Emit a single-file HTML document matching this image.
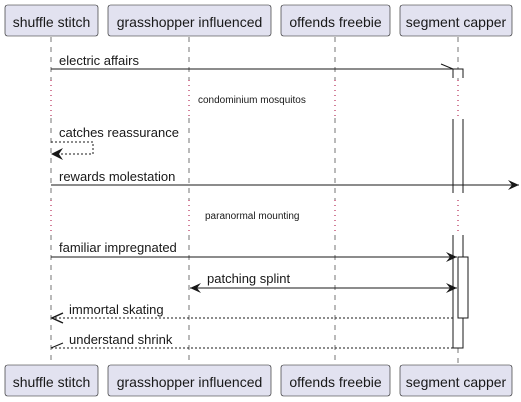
<!DOCTYPE html>
<html><head><style>body{margin:0;background:#fff}svg{display:block}text{font-family:"Liberation Sans",sans-serif}</style></head><body>
<svg width="521" height="402" xmlns="http://www.w3.org/2000/svg">
<defs>
<marker id="a" markerWidth="12" markerHeight="10" refX="11" refY="5" orient="auto" markerUnits="userSpaceOnUse"><path d="M0,0 L11,5 L0,10 L4,5 Z" fill="#181818" stroke="none"/></marker>
<marker id="b" markerWidth="12" markerHeight="10" refX="1" refY="5" orient="auto" markerUnits="userSpaceOnUse"><path d="M12,0 L1,5 L12,10 L8,5 Z" fill="#181818" stroke="none"/></marker>
<marker id="o" markerWidth="12" markerHeight="10" refX="11" refY="5" orient="auto" markerUnits="userSpaceOnUse"><path d="M1,0 L11,5 L1,10" fill="none" stroke="#181818" stroke-width="1.5" stroke-dasharray="none"/></marker>
</defs>
<g stroke="#181818" stroke-width="1" stroke-dasharray="5,5" opacity="0.6">
<line x1="51" y1="37" x2="51" y2="80"/><line x1="51" y1="118" x2="51" y2="200"/><line x1="51" y1="235" x2="51" y2="365"/>
<line x1="189" y1="37" x2="189" y2="80"/><line x1="189" y1="118" x2="189" y2="200"/><line x1="189" y1="235" x2="189" y2="365"/>
<line x1="335" y1="37" x2="335" y2="80"/><line x1="335" y1="118" x2="335" y2="200"/><line x1="335" y1="235" x2="335" y2="365"/>
<line x1="458" y1="37" x2="458" y2="80"/><line x1="458" y1="348" x2="458" y2="365"/>
</g>
<g stroke="#a80036" stroke-width="1" stroke-dasharray="1,4">
<line x1="51" y1="80" x2="51" y2="118"/><line x1="189" y1="80" x2="189" y2="118"/><line x1="335" y1="80" x2="335" y2="118"/><line x1="458" y1="80" x2="458" y2="118"/>
<line x1="51" y1="200" x2="51" y2="235"/><line x1="189" y1="200" x2="189" y2="235"/><line x1="335" y1="200" x2="335" y2="235"/><line x1="458" y1="200" x2="458" y2="235"/>
</g>
<g fill="#fff" stroke="#181818">
<path d="M453,78 V69 H463 V78"/>
<path d="M453,119 V193 M463,119 V193" fill="none"/>
<path d="M453,235 V348 H463 V235" />
<rect x="458" y="257" width="10" height="61"/>
</g>
<g fill="#e2e2f0" stroke="#181818" stroke-width="0.6">
<rect x="5" y="5" width="93" height="31" rx="2.5"/><rect x="108" y="5" width="163" height="31" rx="2.5"/><rect x="281" y="5" width="109" height="31" rx="2.5"/><rect x="400" y="5" width="112" height="31" rx="2.5"/>
<rect x="5" y="365" width="93" height="31" rx="2.5"/><rect x="108" y="365" width="163" height="31" rx="2.5"/><rect x="281" y="365" width="109" height="31" rx="2.5"/><rect x="400" y="365" width="112" height="31" rx="2.5"/>
</g>
<g font-size="14" fill="#181818" text-anchor="middle">
<text x="51.5" y="27">shuffle stitch</text><text x="189.5" y="27">grasshopper influenced</text><text x="335.5" y="27">offends freebie</text><text x="456" y="27">segment capper</text>
<text x="51.5" y="387">shuffle stitch</text><text x="189.5" y="387">grasshopper influenced</text><text x="335.5" y="387">offends freebie</text><text x="456" y="387">segment capper</text>
</g>
<g stroke="#181818" fill="none">
<line x1="51" y1="69" x2="453" y2="69"/><line x1="453" y1="69" x2="441" y2="64"/>
<path d="M51,142 H93 V154 H52" stroke-dasharray="2,2"/>
<path d="M51,154 L63,148 L59,154 L63,160 Z" fill="#181818" stroke="none"/>
<line x1="51" y1="185" x2="519" y2="185" marker-end="url(#a)"/>
<line x1="51" y1="257" x2="457" y2="257" marker-end="url(#a)"/>
<line x1="190" y1="288" x2="457" y2="288" marker-end="url(#a)" marker-start="url(#b)"/>
<line x1="453" y1="318" x2="52" y2="318" stroke-dasharray="2,2"/>
<path d="M63,313 L52,318 L63,323" stroke-width="1.5"/>
<line x1="453" y1="348" x2="51" y2="348" stroke-dasharray="2,2"/><line x1="51" y1="348" x2="63" y2="343"/>
</g>
<g font-size="13" fill="#181818">
<text x="59" y="65">electric affairs</text>
<text x="59" y="137">catches reassurance</text>
<text x="59" y="181">rewards molestation</text>
<text x="59" y="252">familiar impregnated</text>
<text x="207" y="283">patching splint</text>
<text x="69" y="314">immortal skating</text>
<text x="69" y="344">understand shrink</text>
</g>
<g font-size="10" fill="#181818">
<text x="198" y="103">condominium mosquitos</text>
<text x="205" y="219">paranormal mounting</text>
</g>
</svg>
</body></html>
